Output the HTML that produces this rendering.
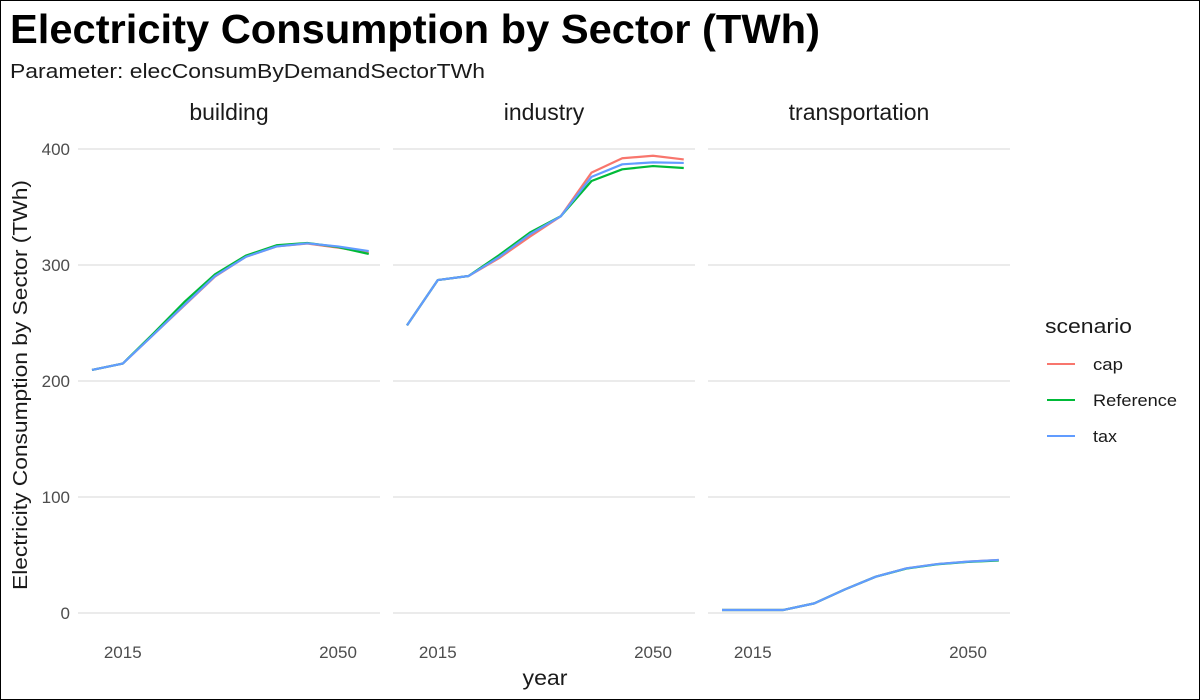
<!DOCTYPE html>
<html><head><meta charset="utf-8"><style>
body{margin:0;background:#fff}
svg{display:block;font-family:"Liberation Sans",Arial,sans-serif}
</style></head><body>
<svg id="c" width="1200" height="700" viewBox="0 0 1200 700">
<rect x="0.5" y="0.5" width="1199" height="699" fill="#fff" stroke="#000"/>
<text x="10" y="43" font-size="41" font-weight="bold" fill="#000" textLength="810" lengthAdjust="spacingAndGlyphs">Electricity Consumption by Sector (TWh)</text>
<text x="10" y="78" font-size="20" fill="#1a1a1a" textLength="475" lengthAdjust="spacingAndGlyphs">Parameter: elecConsumByDemandSectorTWh</text>
<text transform="translate(27,385) rotate(-90)" text-anchor="middle" font-size="20" fill="#1a1a1a" textLength="410" lengthAdjust="spacingAndGlyphs">Electricity Consumption by Sector (TWh)</text>
<text x="545" y="685" text-anchor="middle" font-size="21" fill="#1a1a1a" textLength="45" lengthAdjust="spacingAndGlyphs">year</text>
<g id="panels"></g>
<g>
<text x="1045" y="333" font-size="20" fill="#1a1a1a" textLength="87" lengthAdjust="spacingAndGlyphs">scenario</text>
<g><line x1="1047" y1="364" x2="1075" y2="364" stroke="#F8766D" stroke-width="2"/><text x="1093" y="370" font-size="17" fill="#1a1a1a" textLength="30" lengthAdjust="spacingAndGlyphs">cap</text></g>
<g><line x1="1047" y1="400" x2="1075" y2="400" stroke="#00BA38" stroke-width="2"/><text x="1093" y="406" font-size="17" fill="#1a1a1a" textLength="84" lengthAdjust="spacingAndGlyphs">Reference</text></g>
<g><line x1="1047" y1="436" x2="1075" y2="436" stroke="#619CFF" stroke-width="2"/><text x="1093" y="442" font-size="17" fill="#1a1a1a" textLength="24" lengthAdjust="spacingAndGlyphs">tax</text></g>
</g>
</svg>
<script>
const years = [2010,2015,2020,2025,2030,2035,2040,2045,2050,2055];
const sectors = ["building","industry","transportation"];
const yTicks = [0,100,200,300,400];
const xTicks = [2015,2050];
const scenarios = ["cap","Reference","tax"];
const colors = ["#F8766D","#00BA38","#619CFF"];
const buildingCap = [209.5,215,240,265,290,307,316,318.5,315,310.5];
const buildingRef = [209.5,215,241,268,292,308,317,319,315.5,309.5];
const buildingTax = [209.5,215,240,265.5,290.5,307,316,318.7,316,312];
const industryCap = [248,287,290.5,306,324.5,342,379.6,392,394.2,391];
const industryRef = [248,287,290.5,308.6,328,342,372.4,382.5,385.3,383.6];
const industryTax = [248,287,290.5,307,326.5,342,376,386.8,388.5,388];
const transCap = [2.6,2.6,2.6,8.3,20.4,31.3,38.5,42.2,44.3,45.7];
const transRef = [2.6,2.6,2.6,8.3,20.4,31.3,38.3,42,44,45.2];
const transTax = [2.6,2.6,2.6,8.3,20.4,31.3,38.5,42.2,44.3,45.7];
const series = [[buildingCap,buildingRef,buildingTax],[industryCap,industryRef,industryTax],[transCap,transRef,transTax]];

const NS="http://www.w3.org/2000/svg";
const g=document.getElementById("panels");
const panelLeft=[78,393,708], panelW=302;
const yScale=v=>613-v*1.16;
function mk(tag,attrs,parent){const e=document.createElementNS(NS,tag);for(const k in attrs)e.setAttribute(k,attrs[k]);parent.appendChild(e);return e;}
sectors.forEach((s,pi)=>{
  const L=panelLeft[pi];
  const xScale=yr=>L+14+(yr-2010)*6.15;
  const pg=mk("g",{},g);
  
  
  yTicks.forEach(t=>{
    const l=mk("line",{x1:L,x2:L+panelW,y1:yScale(t),y2:yScale(t),stroke:"#ebebeb","stroke-width":2},pg);
    
    
    if(pi===0){
      const tx=mk("text",{x:70,y:yScale(t)+6,"text-anchor":"end","font-size":17,fill:"#4d4d4d"},pg);
      tx.textContent=t;
      
      
    }
  });
  xTicks.forEach(t=>{
    const tx=mk("text",{x:xScale(t),y:658,"text-anchor":"middle","font-size":17,fill:"#4d4d4d"},pg);
    tx.textContent=t;
    
    
  });
  const st=mk("text",{x:L+panelW/2,y:120,"text-anchor":"middle","font-size":23,fill:"#1a1a1a"},pg);
  st.textContent=s;
  
  
  series[pi].forEach((vals,si)=>{
    const pts=vals.map((v,i)=>xScale(years[i])+","+yScale(v)).join(" ");
    const pl=mk("polyline",{points:pts,fill:"none",stroke:colors[si],"stroke-width":2.2,"stroke-linejoin":"round"},pg);
    
    
  });
});
</script>
</body></html>
